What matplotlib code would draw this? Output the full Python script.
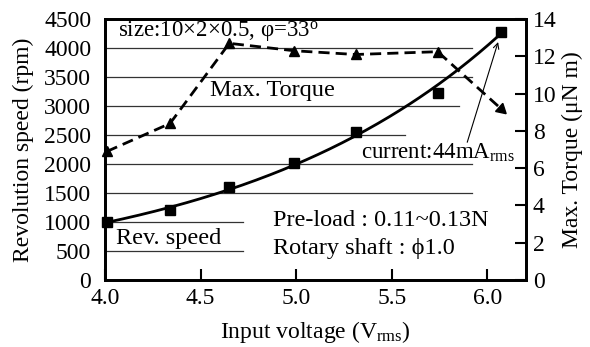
import numpy as np
import matplotlib
matplotlib.use("Agg")
import matplotlib.pyplot as plt

plt.rcParams['font.family'] = ['Liberation Serif', 'DejaVu Serif']
plt.rcParams['mathtext.fontset'] = 'custom'
plt.rcParams['mathtext.rm'] = 'Liberation Serif'
plt.rcParams['mathtext.it'] = 'Liberation Serif:italic'

# Data
voltage = [4.01, 4.34, 4.65, 4.99, 5.31, 5.74, 6.07]
rev_speed = [1000, 1200, 1610, 2010, 2560, 3230, 4280]
torque = [6.9, 8.4, 12.7, 12.3, 12.1, 12.25, 9.2]

x_ticks = [4.0, 4.5, 5.0, 5.5, 6.0]
x_ticklabels = ["4.0", "4.5", "5.0", "5.5", "6.0"]
y_left_ticks = [0, 500, 1000, 1500, 2000, 2500, 3000, 3500, 4000, 4500]
y_right_ticks = [0, 2, 4, 6, 8, 10, 12, 14]

# grid line extents (right end in x data units)
grid_levels = [500, 1000, 1500, 2000, 2500, 3000, 3500, 4000]
grid_ends = [4.72, 4.72, 5.92, 5.92, 5.57, 5.85, 5.92, 5.92]

fig = plt.figure(figsize=(5.9, 3.47), dpi=100)
ax = fig.add_axes([0.178, 0.193, 0.713, 0.752])
ax2 = ax.twinx()

ax.set_xlim(4.0, 6.2)
ax.set_ylim(0, 4500)
ax2.set_ylim(0, 14)

for lvl, end in zip(grid_levels, grid_ends):
    ax.plot([4.0, end], [lvl, lvl], color='#333333', lw=0.9, zorder=1)

# Rev speed: exponential trend from data
coef = np.polyfit(voltage, np.log(rev_speed), 1)
xs = np.linspace(4.0, voltage[-1], 200)
ax.plot(xs, np.exp(np.polyval(coef, xs)), color='black', lw=2, zorder=3)
ax.plot(voltage, rev_speed, 's', color='black', ms=7.5, zorder=4, clip_on=False)

# Torque
ax2.plot(voltage, torque, color='black', lw=2, ls=(0, (4, 2.2)), zorder=3)
ax2.plot(voltage[:-1], torque[:-1], '^', color='black', ms=7, zorder=4, clip_on=False)
ax2.plot(voltage[-1:], torque[-1:], marker=(3, 0, -132), color='black', ms=9, ls='none', zorder=4)

fs = 17
ax.set_xticks(x_ticks)
ax.set_xticklabels(x_ticklabels, fontsize=fs)
ax.set_yticks(y_left_ticks)
ax.set_yticklabels([str(v) for v in y_left_ticks], fontsize=fs)
ax2.set_yticks(y_right_ticks)
ax2.set_yticklabels([str(v) for v in y_right_ticks], fontsize=fs)

ax.tick_params(axis='x', direction='in', length=8, width=1.5, pad=6)
ax.tick_params(axis='y', length=0, pad=10)
ax2.tick_params(axis='y', direction='in', length=8, width=1.5, pad=5)
for a in (ax, ax2):
    for s in a.spines.values():
        s.set_linewidth(2)

ax.set_xlabel("Input voltage (V$_{\\mathrm{rms}}$)", fontsize=fs, labelpad=7)
ax.set_ylabel("Revolution speed (rpm)", fontsize=fs, labelpad=7)
ax2.set_ylabel("Max. Torque (\u03bcN m)", fontsize=fs, labelpad=4)

ts = 17.5
ax.text(4.07, 4280, "size:10\u00d72\u00d70.5, \u03c6=33$^{\\mathrm{o}}$", fontsize=16.5, va='center', ha='left')
ax.text(4.55, 3276, "Max. Torque", fontsize=ts, va='center', ha='left')
ax.text(5.34, 2190, "current:44mA$_{\\mathrm{rms}}$", fontsize=16.5, va='center', ha='left')
ax.text(4.88, 1034, "Pre-load : 0.11~0.13N", fontsize=ts, va='center', ha='left')
ax.text(4.88, 552, "Rotary shaft : \u03d51.0", fontsize=ts, va='center', ha='left')
ax.text(4.06, 724, "Rev. speed", fontsize=ts, va='center', ha='left')

ax.annotate("", xy=(6.06, 4150), xytext=(5.89, 2330),
            arrowprops=dict(arrowstyle='->', color='black', lw=0.8))

fig.savefig("out.png", dpi=100)
